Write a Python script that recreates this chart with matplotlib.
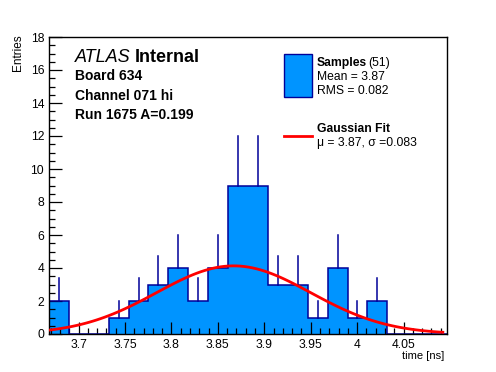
import numpy as np
import matplotlib
matplotlib.use("Agg")
import matplotlib.pyplot as plt
from matplotlib.ticker import MultipleLocator
from matplotlib.patches import Rectangle
from matplotlib.lines import Line2D

# ---- data ----
x_lo, x_hi = 3.6682, 4.0968          # histogram range (20 bins)
counts = [2, 0, 0, 1, 2, 3, 4, 2, 4, 9, 9, 3, 3, 1, 4, 1, 2, 0, 0, 0]
fit_mu, fit_sigma, fit_amp = 3.867, 0.083, 4.13
y_ticks = [0, 2, 4, 6, 8, 10, 12, 14, 16, 18]
x_ticks = [3.7, 3.75, 3.8, 3.85, 3.9, 3.95, 4.0, 4.05]
x_tick_labels = ["3.7", "3.75", "3.8", "3.85", "3.9", "3.95", "4", "4.05"]

plt.rcParams['font.family'] = ['Liberation Sans', 'DejaVu Sans']

W, H = 496, 372
fig = plt.figure(figsize=(W / 100, H / 100), dpi=100)
L, R, T, B = 49, 447, 37, 334
ax = fig.add_axes([L / W, 1 - B / H, (R - L) / W, (B - T) / H])

counts = np.array(counts, dtype=float)
edges = np.linspace(x_lo, x_hi, len(counts) + 1)
centers = 0.5 * (edges[:-1] + edges[1:])

fill_col = '#0094FF'
edge_col = '#000099'
ax.stairs(counts, edges, fill=True, color=fill_col, linewidth=0, zorder=1)
ax.stairs(counts, edges, fill=False, color=edge_col, linewidth=1.1, zorder=2)
for c, n in zip(centers, counts):
    if n > 0:
        ax.plot([c, c], [n, n + np.sqrt(n)], color=edge_col, lw=1.1, zorder=2)

xf = np.linspace(x_lo, x_hi - 0.003, 100)
yf = fit_amp * np.exp(-0.5 * ((xf - fit_mu) / fit_sigma) ** 2)
ax.plot(xf, yf, color='#FF0000', lw=2.0, zorder=3, solid_capstyle='butt')

ax.set_xlim(x_lo, x_hi)
ax.set_ylim(0, 18)
ax.set_xticks(x_ticks)
ax.set_xticklabels(x_tick_labels)
ax.set_yticks(y_ticks)
ax.xaxis.set_minor_locator(MultipleLocator(0.01))
ax.yaxis.set_minor_locator(MultipleLocator(0.5))
ax.tick_params(which='both', direction='in', top=False, right=False,
               labelsize=8.7, width=0.9)
ax.tick_params(which='major', length=9, pad=3.5)
ax.tick_params(which='minor', length=4.5)
for s in ax.spines.values():
    s.set_linewidth(1.0)

renderer = fig.canvas.get_renderer()

def ftext(x, y, s, **kw):
    return fig.text(x / W, 1 - y / H, s, **kw)

def after(t, gap_px):
    bb = t.get_window_extent(renderer=renderer)
    return bb.x1 + gap_px  # display pixels == image pixels at dpi 100

# axis titles
ftext(444, 359, "time [ns]", ha='right', va='baseline', fontsize=8)
fig.text(24 / W, 1 - 34 / H, "Entries", rotation=90, ha='right', va='top',
         fontsize=8.5)

# ATLAS label block
t1 = ftext(75, 62, "ATLAS", fontsize=13, style='italic', va='baseline')
ftext(after(t1, 4), 62, "Internal", fontsize=13, weight='bold', va='baseline')
ftext(75, 80.5, "Board 634", fontsize=10, weight='bold', va='baseline')
ftext(75, 100, "Channel 071 hi", fontsize=10, weight='bold', va='baseline')
ftext(75, 118.5, "Run 1675 A=0.199", fontsize=10, weight='bold', va='baseline')

# legend
fig.patches.append(Rectangle((283.5 / W, 1 - 96.5 / H), 28 / W, 43 / H,
                             transform=fig.transFigure, facecolor=fill_col,
                             edgecolor=edge_col, lw=1.0))
fig.lines.append(Line2D([283.5 / W, 311.5 / W], [1 - 136 / H, 1 - 136 / H],
                        transform=fig.transFigure, color='#FF0000', lw=2.0))
fs = 8.7
t2 = ftext(317, 66, "Samples", fontsize=fs, weight='bold', va='baseline')
ftext(after(t2, 1.5), 66, "(51)", fontsize=fs, va='baseline')
ftext(317, 80, "Mean = 3.87", fontsize=fs, va='baseline')
ftext(317, 94, "RMS = 0.082", fontsize=fs, va='baseline')
ftext(317, 132.5, "Gaussian Fit", fontsize=fs, weight='bold', va='baseline')
ftext(317, 146, "\u03bc = 3.87, \u03c3 =0.083", fontsize=fs, va='baseline')

fig.savefig("out.png", dpi=100)
